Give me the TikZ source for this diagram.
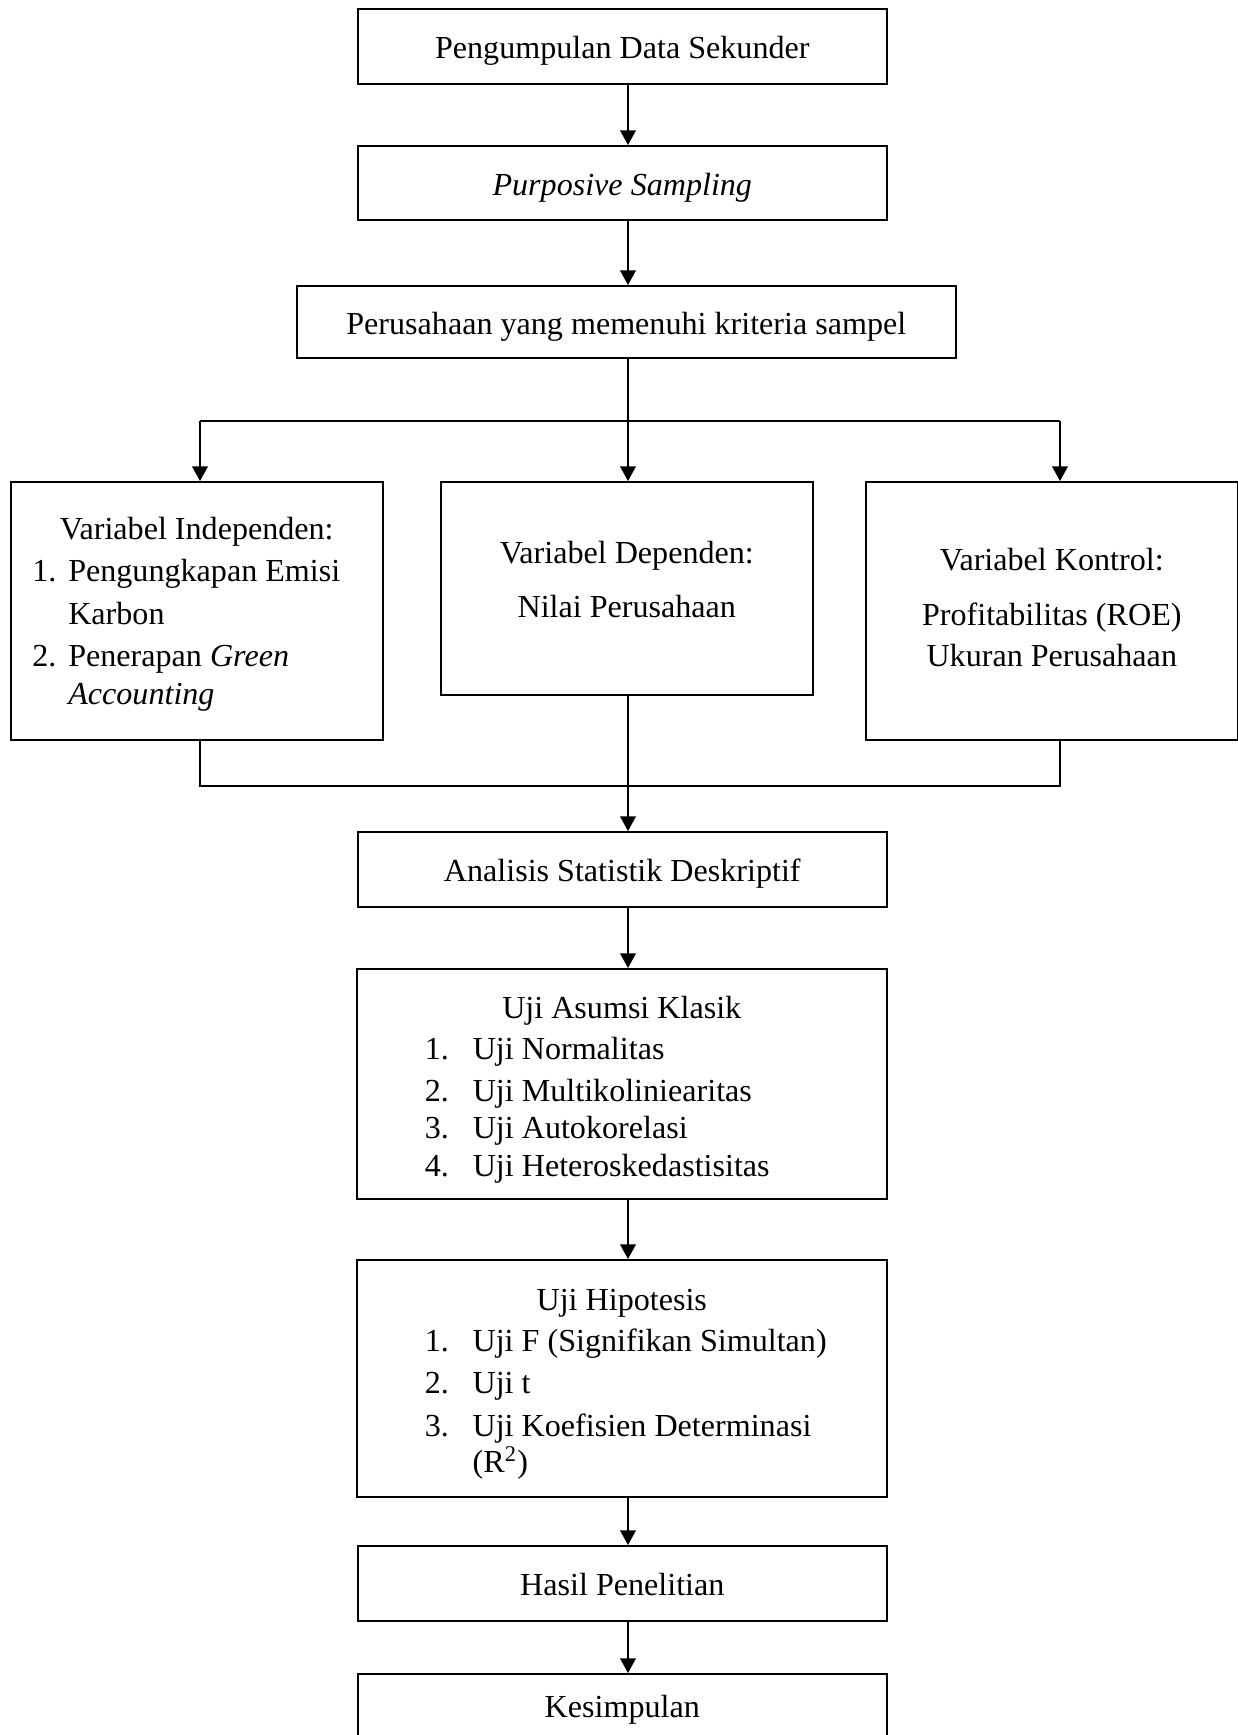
\documentclass[tikz,border=0pt]{standalone}
\usepackage{fontspec}
\setmainfont{Liberation Serif}
\usetikzlibrary{arrows.meta, positioning, calc}

% lift or lower a text block inside its box
\newcommand{\shifttext}[2]{\raisebox{#1}[\height][\depth]{#2}}

\begin{document}
\begin{tikzpicture}[
    x=0.38pt, y=-0.38pt,
    font=\fontsize{12.2}{15}\selectfont,
    box/.style={rectangle, draw=black, line width=0.6pt, inner sep=0pt, anchor=north west},
    single/.style={text height=9.5pt, text depth=0pt},
    size/.style 2 args={minimum width=#1*0.38pt, minimum height=#2*0.38pt},
    arrow/.style={-{Triangle[width=6pt,length=5.6pt]}, line width=0.6pt}
]
\useasboundingbox (0,0) rectangle (1238,1735);

% Top column
\node[box, single, size={529}{75}] (data) at (357,8) {Pengumpulan Data Sekunder};
\node[box, single, size={529}{74}] (purposive) at (357,145) {\textit{Purposive Sampling}};
\node[box, single, size={659}{72}] (sampel) at (296,285) {Perusahaan yang memenuhi kriteria sampel};

% Variables
\node[box, size={372}{258}] (indep) at (10,481) {\shifttext{-1.25pt}{\begin{tabular}{@{}c@{}}
    Variabel Independen:\\[1.3pt]
    \begin{tabular}[t]{@{}p{13.7pt}@{}l@{\hspace{8pt}}}
    1. & Pengungkapan Emisi\\[1.3pt]
       & Karbon\\[1pt]
    2. & Penerapan \textit{Green}\\[-0.6pt]
       & \textit{Accounting}
    \end{tabular}
  \end{tabular}}};
\node[box, size={372}{213}] (dep) at (440,481) {\shifttext{2.1pt}{\begin{tabular}{@{}c@{}}
    Variabel Dependen:\\[5.5pt]
    Nilai Perusahaan
  \end{tabular}}};
\node[box, size={372}{258}] (kontrol) at (865,481) {\begin{tabular}{@{}c@{}}
    Variabel Kontrol:\\[5.9pt]
    Profitabilitas (ROE)\\[0.6pt]
    Ukuran Perusahaan
  \end{tabular}};

% Bottom column
\node[box, single, size={529}{75}] (deskriptif) at (357,831) {Analisis Statistik Deskriptif};
\node[box, size={530}{230}] (asumsi) at (356,968) {\shifttext{-2.1pt}{\begin{tabular}{@{}c@{}}
    Uji Asumsi Klasik\\[0.6pt]
    \begin{tabular}[t]{@{}p{18.2pt}@{}l@{\hspace{18.6pt}}}
    1. & Uji Normalitas\\[1pt]
    2. & Uji Multikoliniearitas\\[-0.9pt]
    3. & Uji Autokorelasi\\[-0.5pt]
    4. & Uji Heteroskedastisitas
    \end{tabular}
  \end{tabular}}};
\node[box, size={530}{237}] (hipotesis) at (356,1259) {\shifttext{-2pt}{\begin{tabular}{@{}c@{}}
    Uji Hipotesis\\[0.6pt]
    \begin{tabular}[t]{@{\hspace{3pt}}p{18.2pt}@{}l@{}}
    1. & Uji F (Signifikan Simultan)\\[1.3pt]
    2. & Uji t\\[1.3pt]
    3. & Uji Koefisien Determinasi\\[-1.3pt]
       & (R\textsuperscript{2})
    \end{tabular}
  \end{tabular}}};
\node[box, single, size={529}{75}] (hasil) at (357,1545) {Hasil Penelitian};
\node[box, size={529}{72}] (kesimpulan) at (357,1673) {Kesimpulan};

% Branch and merge points
\coordinate (spine) at (628,421);
\coordinate (bl) at (200,421);
\coordinate (br) at (1060,421);
\coordinate (ml) at (200,786);
\coordinate (mr) at (1060,786);

% Arrows
\draw[arrow] (data.south -| spine) -- (purposive.north -| spine);
\draw[arrow] (purposive.south -| spine) -- (sampel.north -| spine);
\draw (sampel.south -| spine) -- (spine);
\draw (bl) -- (br);
\draw[arrow] (bl) -- (indep.north -| bl);
\draw[arrow] (spine) -- (dep.north -| spine);
\draw[arrow] (br) -- (kontrol.north -| br);
\draw (indep.south -| ml) -- (ml) -- (mr) -- (kontrol.south -| mr);
\draw[arrow] (dep.south -| spine) -- (deskriptif.north -| spine);
\draw[arrow] (deskriptif.south -| spine) -- (asumsi.north -| spine);
\draw[arrow] (asumsi.south -| spine) -- (hipotesis.north -| spine);
\draw[arrow] (hipotesis.south -| spine) -- (hasil.north -| spine);
\draw[arrow] (hasil.south -| spine) -- (kesimpulan.north -| spine);

\end{tikzpicture}
\end{document}
